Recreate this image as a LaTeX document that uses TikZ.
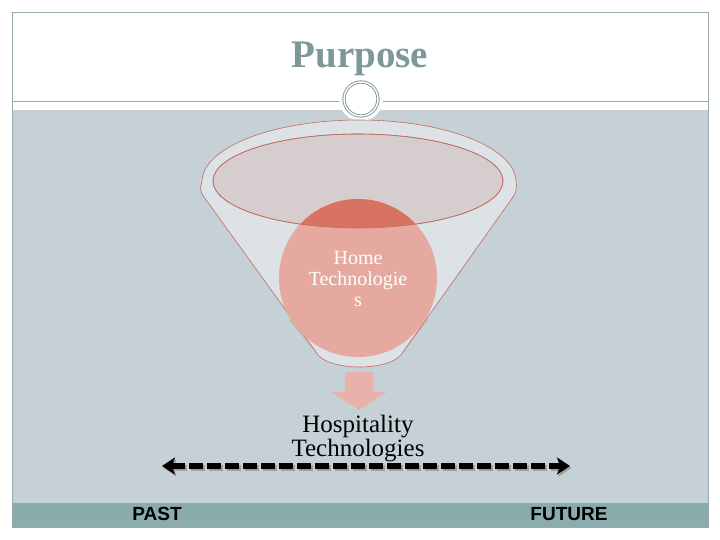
\documentclass[tikz,border=0pt]{standalone}
\usepackage{fontspec}
\setmainfont{Liberation Serif}
\newfontfamily\arialf{Liberation Sans}
\usetikzlibrary{arrows.meta}
\definecolor{framec}{HTML}{9AABAB}
\definecolor{titlec}{HTML}{7E9797}
\definecolor{bgc}{HTML}{C6D1D7}
\definecolor{barc}{HTML}{8AACAC}
\definecolor{funfill}{HTML}{DCE2E6}
\definecolor{innerfill}{HTML}{D5CDCE}
\definecolor{redline}{HTML}{C46A62}
\definecolor{ballc}{HTML}{E6A99F}
\definecolor{balltop}{HTML}{D87362}
\definecolor{arrowc}{HTML}{E8B2AA}
\tikzset{
  outline/.style={draw=redline, line width=0.6pt},
  timeline/.style={line width=6pt, dash pattern=on 14pt off 4pt,
    arrows={Stealth[length=13pt,width=17pt,inset=3pt]-Stealth[length=13pt,width=17pt,inset=3pt]}},
}
\begin{document}
\begin{tikzpicture}[x=1pt,y=-1pt]
\useasboundingbox (0,0) rectangle (720,540);
\fill[white] (0,0) rectangle (720,540);
% gray area and bar
\fill[bgc] (12,110) rectangle (708,503);
\fill[barc] (12,503) rectangle (708,527);
\draw[framec, line width=0.8pt] (12,12) rectangle (708,527);
\draw[framec, line width=0.8pt] (12,101) -- (708,101);
% title
\node[font=\bfseries\fontsize{39}{42}\selectfont, text=titlec] (title) at (360,59) {Purpose};
% ornament
\fill[white] (361,99) circle (22);
\node[circle, draw=titlec, double=white, double distance=1.4pt, line width=0.9pt, minimum size=34pt, inner sep=0pt] (orn) at (361,99) {};
% funnel body
\path[outline, fill=funfill]
  (516,182) arc[start angle=0, end angle=-180, x radius=157, y radius=62]
  .. controls (199,188) and (201,193) .. (204,197)
  -- (316,352) .. controls (326,372) and (393,372) .. (403,352)
  -- (513,197) .. controls (516,193) and (517,188) .. (516,182) -- cycle;
% inner ellipse
\path[outline, fill=innerfill] (358,181) ellipse[x radius=145, y radius=47];
% ball
\node[circle, fill=ballc, minimum size=158pt, inner sep=0pt] (ball) at (358,278) {};
\begin{scope}
  \clip (358,181) ellipse[x radius=145, y radius=47];
  \fill[balltop] (358,278) circle (79);
\end{scope}
\draw[redline, line width=0.6pt] (358,181) ellipse[x radius=145, y radius=47];
\draw[redline, line width=0.4pt, opacity=0.6] (290,320) -- (316,352);
\draw[redline, line width=0.4pt, opacity=0.6] (427,320) -- (403,352);
\node[align=center, text=white, font=\fontsize{20}{21}\selectfont] (home) at (358,279) {Home\\Technologie\\s};
% down arrow
\fill[arrowc] (345,372) -- (373,372) -- (373,392) -- (387,392) -- (359,410) -- (331,392) -- (345,392) -- cycle;
\coordinate (arrtip) at (359,410);
% hospitality
\node[align=center, font=\fontsize{25}{24}\selectfont] (hosp) at (358,439) {Hospitality\\Technologies};
% timeline
\coordinate (L) at (162,466);
\coordinate (R) at (570,466);
\draw[gray!75, timeline] ([shift={(1.5,2)}]L) -- ([shift={(1.5,2)}]R);
\draw[black, timeline] (L) -- (R);
% labels
\node[font=\arialf\bfseries\fontsize{19}{20}\selectfont] (past) at (157,514) {PAST};
\node[font=\arialf\bfseries\fontsize{19}{20}\selectfont] (future) at (569,514) {FUTURE};
\end{tikzpicture}
\end{document}
